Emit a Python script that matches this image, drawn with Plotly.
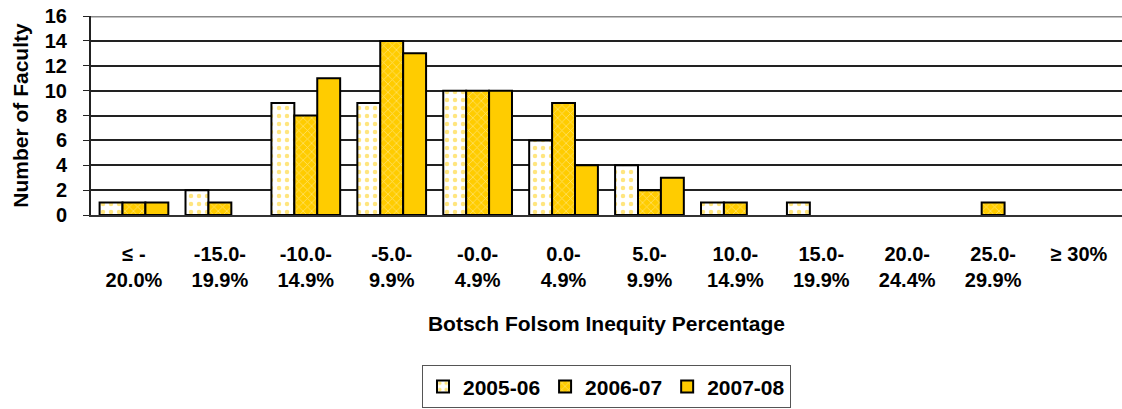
import plotly.graph_objects as go

# bins of the inequity percentage
categories = ["≤ -<br>20.0%", "-15.0-<br>19.9%", "-10.0-<br>14.9%", "-5.0-<br>9.9%",
              "-0.0-<br>4.9%", "0.0-<br>4.9%", "5.0-<br>9.9%", "10.0-<br>14.9%",
              "15.0-<br>19.9%", "20.0-<br>24.4%", "25.0-<br>29.9%", "≥ 30%<br> "]

fac_2005_06 = [1, 2, 9, 9, 10, 6, 4, 1, 1, 0, 0, 0]
fac_2006_07 = [1, 1, 8, 14, 10, 9, 2, 1, 0, 0, 1, 0]
fac_2007_08 = [1, 0, 11, 13, 10, 4, 3, 0, 0, 0, 0, 0]

y_ticks = [0, 2, 4, 6, 8, 10, 12, 14, 16]

gold = "#FFCC00"
FONT = "Liberation Sans, Arial, sans-serif"


def nz(vals):
    # zero counts draw no bar at all in the original
    return [v if v else None for v in vals]


fig = go.Figure()
fig.add_trace(go.Bar(
    x=categories, y=nz(fac_2005_06), name="<b>2005-06</b>",
    marker=dict(color="white", line=dict(color="black", width=2),
                pattern=dict(shape=".", fgcolor=gold, bgcolor="white", size=8, solidity=0.25)),
))
fig.add_trace(go.Bar(
    x=categories, y=nz(fac_2006_07), name="<b>2006-07</b>",
    marker=dict(color=gold, line=dict(color="black", width=2),
                pattern=dict(shape="x", fgcolor="#FFF6CC", bgcolor=gold, size=6, solidity=0.25)),
))
fig.add_trace(go.Bar(
    x=categories, y=nz(fac_2007_08), name="<b>2007-08</b>",
    marker=dict(color=gold, line=dict(color="black", width=2)),
))

fig.update_layout(
    width=1122, height=409,
    barmode="group", bargap=0.2, bargroupgap=0,
    plot_bgcolor="white", paper_bgcolor="white",
    margin=dict(l=91, r=0, t=16, b=191),
    font=dict(family=FONT, size=20, color="black"),
    showlegend=True,
    legend=dict(orientation="h", x=0.50, xanchor="center", y=-0.755, yanchor="top",
                bordercolor="#555555", borderwidth=1, font=dict(size=21),
                itemwidth=30, tracegroupgap=0),
)
fig.update_xaxes(
    tickmode="array", tickvals=categories,
    ticktext=["<b>" + c.replace("<br>", "</b><br><b>") + "</b>" for c in categories],
    tickfont=dict(size=20), ticklabelstandoff=20, automargin=False,
    showline=True, linecolor="#333333", linewidth=2,
    title=dict(text="<b>Botsch Folsom Inequity Percentage</b>", font=dict(size=21), standoff=26),
)
fig.update_yaxes(
    range=[0, 16], tickvals=y_ticks, ticktext=["<b>%d</b>" % v for v in y_ticks],
    tickfont=dict(size=20), showgrid=True, gridcolor="#222222", gridwidth=1.5,
    showline=True, linecolor="#222222", linewidth=2, ticks="outside", ticklen=6,
    tickcolor="#222222", zeroline=False, automargin=False, ticklabelstandoff=12,
    ticklabeloverflow="allow",
    title=dict(text="<b>Number of Faculty</b>", font=dict(size=21), standoff=10),
)
# grey top border of the plot area
fig.add_shape(type="line", xref="paper", yref="y", x0=0, x1=1, y0=16, y1=16,
              line=dict(color="#888888", width=3))

# drop the default 8px page margin so the figure sits at the window corner
fig.write_html("out.html", config={"displayModeBar": False},
               post_script="document.body.style.margin='0';")
